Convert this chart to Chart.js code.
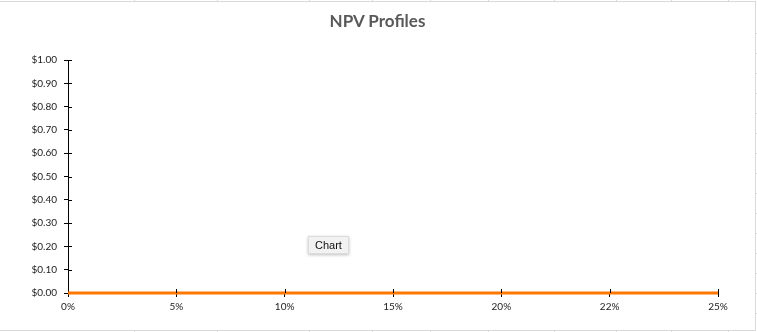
<!DOCTYPE html>
<html>
<head>
<meta charset="utf-8">
<script src="https://cdn.jsdelivr.net/npm/chart.js@4.4.1/dist/chart.umd.min.js"></script>
<style>
  html, body { margin: 0; padding: 0; background: #fff; }
  #wrap { position: relative; width: 757px; height: 332px; overflow: hidden; }
  #frame { position: absolute; left: -2px; top: 1px; width: 756px; height: 328px; border: 1px solid #d9d9d9; }
  #chart { position: absolute; left: 0; top: 0; }
  #title {
    position: absolute; left: 0; width: 755px; top: 11px; text-align: center;
    font: bold 17px Lato, "Open Sans", sans-serif; color: #595959; line-height: 20px;
  }
  .cell { position: absolute; background: #d9d9d9; }
  #tip {
    position: absolute; left: 308px; top: 236px; padding: 2px 6px;
    font: 11px "Liberation Sans", Arial, sans-serif; color: #111;
    background: #f2f2f2; border: 1px solid #dcdcdc;
    box-shadow: 0 1px 3px rgba(0,0,0,0.25);
  }
</style>
</head>
<body>
<div id="wrap">
  <div id="frame"></div>
  <canvas id="chart" width="757" height="332"></canvas>
  <div id="title">NPV Profiles</div>
  <div id="tip">Chart</div>
</div>
<script>
const rates = ['0%', '5%', '10%', '15%', '20%', '22%', '25%'];
const npv = [0, 0, 0, 0, 0, 0, 0];
const yTicks = [0, 0.1, 0.2, 0.3, 0.4, 0.5, 0.6, 0.7, 0.8, 0.9, 1.0];

// spreadsheet cell borders peeking out around the chart frame
const wrap = document.getElementById('wrap');
[134, 217, 309, 372, 430, 488, 554, 616, 671, 728].forEach(x => {
    ['top:0;height:2px', 'top:330px;height:2px'].forEach(s => {
        const d = document.createElement('div');
        d.className = 'cell';
        d.style.cssText = `left:${x}px;width:1px;${s}`;
        wrap.appendChild(d);
    });
});
[33, 53, 73, 93, 113, 133, 153, 173, 193, 213, 233, 253, 273, 293, 313].forEach(y => {
    const d = document.createElement('div');
    d.className = 'cell';
    d.style.cssText = `left:755px;width:2px;top:${y}px;height:1px`;
    wrap.appendChild(d);
});

// small ticks crossing the axes on the inside, like Excel's "cross" tick marks
const crossTicks = {
    id: 'crossTicks',
    afterDatasetsDraw(chart) {
        const { ctx, scales: { x, y }, chartArea } = chart;
        ctx.save();
        ctx.strokeStyle = '#000';
        ctx.lineWidth = 1;
        ctx.beginPath();
        yTicks.forEach(v => {
            if (v === 0) return;
            const py = Math.round(y.getPixelForValue(v)) + 0.5;
            ctx.moveTo(chartArea.left, py);
            ctx.lineTo(chartArea.left + 4, py);
        });
        rates.forEach((r, i) => {
            if (i === 0) return;
            const px = Math.round(x.getPixelForValue(i)) + 0.5;
            ctx.moveTo(px, chartArea.bottom);
            ctx.lineTo(px, chartArea.bottom - 4);
        });
        ctx.stroke();
        ctx.restore();
    }
};

const tickFont = { family: 'Lato, "Open Sans", sans-serif', size: 10 };

new Chart(document.getElementById('chart'), {
    type: 'line',
    data: {
        labels: rates,
        datasets: [{
            label: 'NPV',
            data: npv,
            borderColor: '#ff7700',
            borderWidth: 3,
            pointRadius: 0,
            tension: 0,
            clip: false
        }]
    },
    options: {
        responsive: false,
        animation: false,
        events: [],
        layout: { padding: { left: 0, right: 39, top: 60, bottom: 0 } },
        scales: {
            x: {
                offset: false,
                grid: { drawOnChartArea: false, tickLength: 4, color: '#000' },
                border: { color: '#000', width: 1 },
                ticks: { color: '#222', font: tickFont, padding: 4, maxRotation: 0, autoSkip: false },
                afterFit: s => { s.height = 39; }
            },
            y: {
                min: 0,
                max: 1,
                afterBuildTicks: s => { s.ticks = yTicks.map(v => ({ value: v })); },
                grid: { drawOnChartArea: false, tickLength: 4, color: '#000' },
                border: { color: '#000', width: 1 },
                ticks: {
                    color: '#222', font: tickFont, padding: 7,
                    callback: v => '$' + Number(v).toFixed(2)
                },
                afterFit: s => { s.width = 68; }
            }
        },
        plugins: {
            legend: { display: false },
            tooltip: { enabled: false },
            title: { display: false }
        }
    },
    plugins: [crossTicks]
});
</script>
</body>
</html>
